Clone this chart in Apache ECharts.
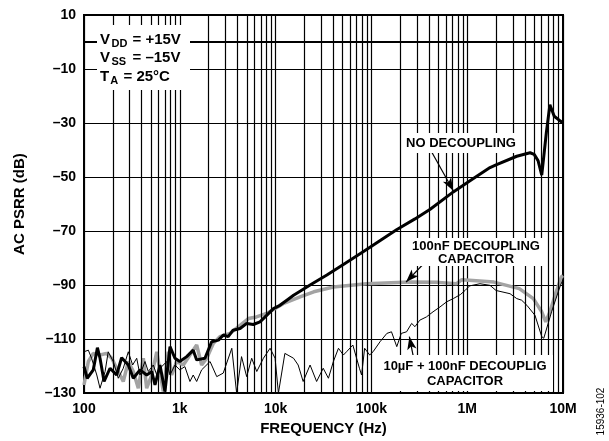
<!DOCTYPE html>
<html>
<head>
<meta charset="utf-8">
<script src="https://cdn.jsdelivr.net/npm/echarts@6/dist/echarts.min.js"></script>
<style>
  html, body { margin: 0; padding: 0; background: #fff; }
  #chart { width: 609px; height: 441px; }
</style>
</head>
<body>
<div id="chart"></div>
<script>
// AC PSRR versus frequency for three supply-decoupling configurations.
const xTickValues = [100, 1e3, 1e4, 1e5, 1e6, 1e7];
const xTickLabels = ['100', '1k', '10k', '100k', '1M', '10M'];
const xMinorGrid = [
  200, 300, 400, 500, 600, 700, 800, 900,
  2e3, 3e3, 4e3, 5e3, 6e3, 7e3, 8e3, 9e3,
  2e4, 3e4, 4e4, 5e4, 6e4, 7e4, 8e4, 9e4,
  2e5, 3e5, 4e5, 5e5, 6e5, 7e5, 8e5, 9e5,
  2e6, 3e6, 4e6, 5e6, 6e6, 7e6, 8e6, 9e6
];
const yTicks = [-130, -110, -90, -70, -50, -30, -10, 10];

// [frequency (Hz), PSRR (dB)]
const noDecoupling = [
  [100, -120.2], [108, -124.5], [125, -121.4], [138, -113.2], [147, -117.1], [162, -125.7],
  [187, -120.8], [219, -123.3], [247, -116.9], [290, -119.6], [327, -124.5], [384, -121.4],
  [451, -123.3], [510, -122.0], [551, -127.0], [621, -119.6], [700, -129.4], [790, -112.8],
  [890, -117.1], [1000, -118.3], [1180, -116.5], [1380, -114.1], [1500, -117.7], [1830, -117.1],
  [2150, -111.0], [2530, -110.4], [2850, -108.5], [3200, -109.1], [3600, -106.7], [4260, -106.1],
  [5000, -104.2], [5850, -104.6], [6870, -103.6], [8070, -101.2], [9500, -98.7], [11100, -97.5],
  [13100, -95.6], [15400, -93.8], [18000, -92.3], [22900, -90.0], [34300, -86.3], [51000, -82.4],
  [82000, -77.7], [183000, -69.5], [285000, -65.5], [411000, -61.9], [716000, -55.5],
  [1060000, -51.5], [1730000, -46.5], [2000000, -45.5], [3290000, -42.3], [4530000, -41.0],
  [5000000, -41.6], [5500000, -44.0], [6000000, -49.3], [6700000, -33.6], [7300000, -23.2],
  [8100000, -27.5], [9400000, -29.3], [10000000, -29.9]
];

const decoupling100nF = [
  [100, -127.0], [111, -118.3], [125, -115.3], [147, -115.9], [172, -115.3], [195, -117.1],
  [219, -120.8], [257, -125.7], [290, -118.3], [327, -122.0], [369, -128.2], [416, -117.1],
  [451, -128.2], [510, -123.3], [575, -114.7], [672, -129.4], [758, -114.7], [822, -123.3],
  [927, -118.3], [1088, -119.6], [1276, -115.9], [1500, -112.2], [1690, -119.6], [1910, -117.1],
  [2240, -111.6], [2620, -109.1], [3340, -107.9], [4260, -104.9], [5200, -102.4], [6300, -101.8],
  [8070, -100.5], [12000, -96.9], [18000, -94.4], [25000, -92.5], [40000, -90.7], [89000, -89.5],
  [253000, -88.9], [500000, -89.0], [777000, -89.5], [880000, -88.0], [1140000, -88.3],
  [1900000, -88.9], [3500000, -91.3], [4900000, -95.0], [6000000, -99.9], [6600000, -103.6],
  [7300000, -99.9], [8500000, -92.5], [9600000, -87.0], [10000000, -86.5]
];

const decoupling10uF100nF = [
  [100, -114.7], [111, -114.1], [120, -117.1], [136, -123.3], [147, -128.2], [166, -122.0],
  [179, -114.7], [202, -118.3], [228, -124.5], [257, -120.8], [290, -114.7], [322, -119.6],
  [355, -117.1], [384, -123.3], [433, -118.3], [469, -122.0], [529, -119.6], [575, -123.3],
  [648, -120.2], [730, -118.3], [790, -123.3], [890, -119.6], [1000, -121.4], [1130, -120.2],
  [1276, -125.7], [1380, -123.3], [1500, -125.7], [1690, -121.4], [2070, -118.3], [2430, -123.9],
  [2840, -122.6], [3490, -113.4], [3920, -130.0], [4410, -116.5], [4990, -123.9], [5630, -117.1],
  [6360, -122.0], [7460, -117.1], [8760, -113.4], [9880, -117.1], [10700, -130.0], [12500, -115.3],
  [15400, -117.1], [17200, -119.6], [19400, -125.7], [22900, -119.6], [26800, -125.7],
  [31400, -120.8], [35600, -124.5], [40100, -118.3], [45300, -113.4], [51000, -115.9],
  [55000, -114.7], [64000, -112.2], [75000, -120.8], [79000, -123.3], [85000, -113.4],
  [96000, -115.9], [104000, -114.7], [123000, -111.0], [145000, -107.9], [162000, -107.3],
  [184000, -112.8], [205000, -107.9], [233000, -107.3], [263000, -104.2], [285000, -105.4],
  [320000, -103.0], [375000, -101.8], [440000, -99.9], [520000, -98.1], [610000, -96.2],
  [716000, -95.0], [850000, -93.5], [950000, -92.0], [1060000, -90.3], [1360000, -89.5],
  [1730000, -90.1], [2000000, -92.0], [2800000, -93.2], [3290000, -95.0], [3700000, -95.6],
  [4200000, -97.5], [5100000, -101.2], [6000000, -109.1], [6300000, -109.7], [7600000, -99.9],
  [9400000, -90.1], [10000000, -88.0]
];

// Callout arrows: [tail, head] in data coordinates
const arrowNoDecoupling = [[426000, -40.7], [716000, -55.1]];
const arrow100nF = [[378000, -80.9], [230000, -88.9]];
const arrow10uF = [[274000, -116.5], [249000, -109.1]];

const FONT = '"Liberation Sans", Arial, Helvetica, sans-serif';
const BOLD = (size) => 'bold ' + size + 'px ' + FONT;

const chart = echarts.init(document.getElementById('chart'), null, { renderer: 'canvas' });

function arrowLine(pair) {
  return [{ coord: pair[0] }, { coord: pair[1] }];
}

function whiteBox(x, y, w, h) {
  return { type: 'rect', z: 100, silent: true, shape: { x: x, y: y, width: w, height: h },
           style: { fill: '#fff' } };
}
function label(text, x, y, size, align) {
  return { type: 'text', z: 101, silent: true,
           style: { text: text, x: x, y: y, font: BOLD(size), fill: '#000',
                    textAlign: align || 'left', textVerticalAlign: 'middle' } };
}

const option = {
  animation: false,
  backgroundColor: '#fff',
  grid: {
    left: 84, right: 46, top: 15, bottom: 46,
    show: true, borderColor: '#000', borderWidth: 2, backgroundColor: 'transparent'
  },
  xAxis: {
    type: 'log', logBase: 10, min: 100, max: 1e7,
    name: 'FREQUENCY (Hz)', nameLocation: 'middle', nameGap: 25,
    nameTextStyle: { fontFamily: FONT, fontWeight: 'bold', fontSize: 15, color: '#000' },
    axisLine: { show: true, lineStyle: { color: '#000', width: 2 } },
    axisTick: { show: false },
    splitLine: { show: true, lineStyle: { color: '#000', width: 1.2 } },
    axisLabel: {
      fontFamily: FONT, fontWeight: 'bold', fontSize: 14, color: '#000', margin: 9,
      formatter: (v) => {
        const i = xTickValues.indexOf(Math.pow(10, Math.round(Math.log10(v))));
        return i >= 0 ? xTickLabels[i] : '';
      }
    }
  },
  yAxis: {
    type: 'value', min: yTicks[0], max: yTicks[yTicks.length - 1], interval: 20,
    name: 'AC PSRR (dB)', nameLocation: 'middle', nameGap: 57, nameRotate: 90,
    nameTextStyle: { fontFamily: FONT, fontWeight: 'bold', fontSize: 15, color: '#000' },
    axisLine: { show: true, lineStyle: { color: '#000', width: 2 } },
    axisTick: { show: false },
    splitLine: { show: true, lineStyle: { color: '#000', width: 1.2 } },
    axisLabel: {
      fontFamily: FONT, fontWeight: 'bold', fontSize: 14, color: '#000', margin: 8,
      formatter: (v) => (v < 0 ? '\u2013' + Math.abs(v) : String(v))
    }
  },
  series: [
    {
      // minor log-decade grid lines
      type: 'line', data: [], z: 1, silent: true,
      markLine: {
        silent: true, symbol: ['none', 'none'], label: { show: false },
        lineStyle: { color: '#000', width: 1.2, type: 'solid' },
        emphasis: { disabled: true },
        data: xMinorGrid.map((v) => ({ xAxis: v }))
      }
    },
    {
      name: '100nF DECOUPLING CAPACITOR', type: 'line', data: decoupling100nF, z: 3,
      showSymbol: false, smooth: false,
      lineStyle: { color: '#a3a3a3', width: 3.5 }
    },
    {
      name: '10µF + 100nF DECOUPLING CAPACITOR', type: 'line', data: decoupling10uF100nF, z: 4,
      showSymbol: false,
      lineStyle: { color: '#000', width: 1 }
    },
    {
      name: 'NO DECOUPLING', type: 'line', data: noDecoupling, z: 5,
      showSymbol: false,
      lineStyle: { color: '#000', width: 3 }
    },
    {
      // callout arrows
      type: 'line', data: [], z: 120, silent: true,
      markLine: {
        silent: true, symbol: ['none', 'arrow'], symbolSize: [7, 13], label: { show: false },
        lineStyle: { color: '#000', width: 1.2, type: 'solid' },
        itemStyle: { color: '#000' },
        emphasis: { disabled: true },
        data: [arrowLine(arrowNoDecoupling), arrowLine(arrow100nF), arrowLine(arrow10uF)]
      }
    }
  ],
  graphic: [
    // supply / temperature conditions
    whiteBox(97, 25, 93, 65),
    label('V', 100, 39.5, 15), label('DD', 111.5, 43.8, 11), label('= +15V', 132.5, 39.5, 15),
    label('V', 100, 58, 15), label('SS', 111.5, 62.3, 11), label('= \u201315V', 132.5, 58, 15),
    label('T', 100, 76.5, 15), label('A', 110.2, 81, 11), label('= 25\u00b0C', 123.5, 76.5, 15),
    // series callouts
    whiteBox(404, 133, 114, 20),
    label('NO DECOUPLING', 461, 143.5, 13, 'center'),
    whiteBox(409, 238, 134, 28),
    label('100nF DECOUPLING', 476, 246.5, 13, 'center'),
    label('CAPACITOR', 476, 259.5, 13, 'center'),
    whiteBox(377, 355, 176, 36),
    label('10\u00b5F + 100nF DECOUPLIG', 465, 366.5, 13, 'center'),
    label('CAPACITOR', 465, 381.5, 13, 'center'),
    // figure id
    { type: 'text', z: 101, silent: true, rotation: Math.PI / 2, x: 601.5, y: 411.5,
      style: { text: '15936-102', x: 0, y: 0, font: '10px ' + FONT, fill: '#000',
               textAlign: 'center', textVerticalAlign: 'middle' } }
  ]
};

chart.setOption(option);
</script>
</body>
</html>
